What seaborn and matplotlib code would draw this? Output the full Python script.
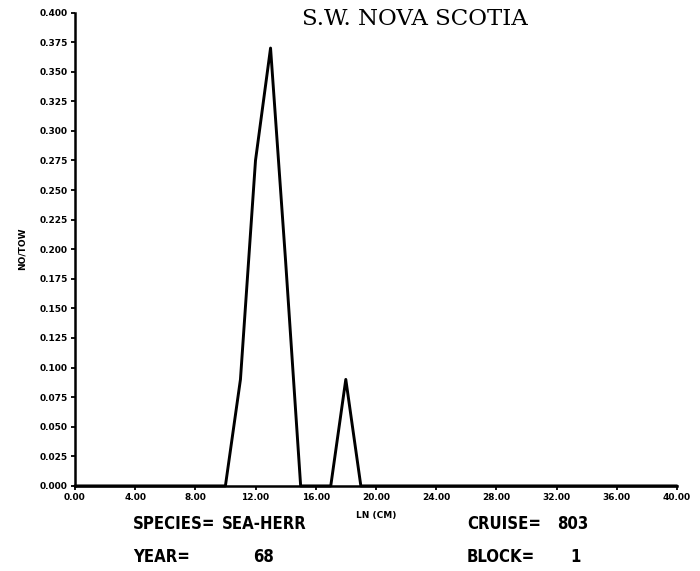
import matplotlib
matplotlib.use("Agg")
import matplotlib.pyplot as plt
import seaborn as sns
import pandas as pd

# Length-frequency of sea herring, catch per tow by 1-cm length class
length_cm = list(range(0, 41))
no_per_tow = [0.0] * 41
no_per_tow[11] = 0.090
no_per_tow[12] = 0.275
no_per_tow[13] = 0.370
no_per_tow[14] = 0.190
no_per_tow[18] = 0.090

x_ticks = [0, 4, 8, 12, 16, 20, 24, 28, 32, 36, 40]
y_ticks = [i * 0.025 for i in range(17)]

title = "S.W. NOVA SCOTIA"
species = "SEA-HERR"
year = "68"
cruise = "803"
block = "1"

sns.set_style("ticks")
plt.rcParams["font.family"] = ["DejaVu Sans"]
plt.rcParams["font.weight"] = "bold"
for key in ("text.color", "axes.labelcolor", "xtick.color", "ytick.color",
            "axes.edgecolor"):
    plt.rcParams[key] = "black"

df = pd.DataFrame({"LN (CM)": length_cm, "NO/TOW": no_per_tow})

fig = plt.figure(figsize=(7.0, 5.71), dpi=100)
ax = fig.add_axes([0.107, 0.149, 0.860, 0.829])

sns.lineplot(data=df, x="LN (CM)", y="NO/TOW", ax=ax, color="black",
             linewidth=2.1, clip_on=False)

ax.set_xlim(0, 40)
ax.set_ylim(0, 0.4)
ax.set_xticks(x_ticks)
ax.set_xticklabels([f"{v:.2f}" for v in x_ticks], fontsize=6.5, fontweight="bold")
ax.set_yticks(y_ticks)
ax.set_yticklabels([f"{v:.3f}" for v in y_ticks], fontsize=6.5, fontweight="bold")
ax.tick_params(axis="both", length=3, width=1.3, pad=2, color="black",
               labelcolor="black")

for side in ("top", "right"):
    ax.spines[side].set_visible(False)
for side in ("left", "bottom"):
    ax.spines[side].set_linewidth(1.8)
    ax.spines[side].set_color("black")

ax.set_xlabel("LN (CM)", fontsize=6.5, fontweight="bold", color="black")
ax.set_ylabel("NO/TOW", fontsize=6.5, fontweight="bold", color="black")
ax.xaxis.set_label_coords(0.5, -0.053)
ax.yaxis.set_label_coords(-0.080, 0.5)

# Title in typewriter style
fig.text(0.431, 0.966, title, family="DejaVu Serif", fontweight="normal",
         fontsize=16.5, va="center", ha="left", color="black")

# Station information block
info_kw = dict(fontsize=12, fontweight="bold", fontstretch="condensed",
               va="center", ha="left", color="black")
fig.text(133 / 700, 1 - 524 / 571, "SPECIES=", **info_kw)
fig.text(222 / 700, 1 - 524 / 571, species, **info_kw)
fig.text(133 / 700, 1 - 557 / 571, "YEAR=", **info_kw)
fig.text(253 / 700, 1 - 557 / 571, year, **info_kw)
fig.text(467 / 700, 1 - 524 / 571, "CRUISE=", **info_kw)
fig.text(557 / 700, 1 - 524 / 571, cruise, **info_kw)
fig.text(467 / 700, 1 - 557 / 571, "BLOCK=", **info_kw)
fig.text(570 / 700, 1 - 557 / 571, block, **info_kw)

fig.savefig("out.png", dpi=100)
